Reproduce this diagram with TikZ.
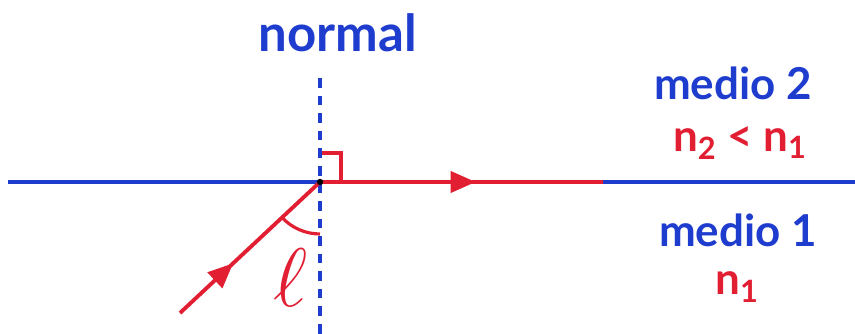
\documentclass[tikz,border=0pt]{standalone}
\usepackage{fontspec}
\setmainfont{Lato}
\usepackage{xcolor}
\usepackage{tikz}
\usetikzlibrary{arrows.meta, decorations.markings, calc}
\definecolor{penblue}{RGB}{30,60,205}
\definecolor{penred}{RGB}{225,30,50}

\begin{document}
\begin{tikzpicture}[x=0.02cm, y=0.02cm,
        txt/.style={inner sep=0pt, font=\fontsize{25}{29}\selectfont\bfseries},
        medium/.style={txt, text=penblue},
        index/.style={txt, text=penred},
        interface/.style={draw=penblue, line width=2pt},
        normalline/.style={draw=penblue, line width=2.2pt, dash pattern=on 5.5pt off 4.5pt},
        ray/.style={draw=penred, line width=2.2pt},
        midarrow/.style={postaction={decorate}, decoration={markings,
            mark=at position #1 with {\arrow[penred]{Triangle[length=0.5cm, width=0.42cm]}}}}
    ]
    \useasboundingbox (0,0) rectangle (855,334);

    % points
    \coordinate (O) at (320,152);
    \coordinate (leftEnd) at (8,152);
    \coordinate (rightEnd) at (855,152);
    \coordinate (normTop) at (320,256);
    \coordinate (normBot) at (320,0);
    \coordinate (inStart) at (180,21);
    \coordinate (refEnd) at (603,152);

    % interface and normal
    \draw[interface] (leftEnd) -- (rightEnd);
    \draw[normalline] (normTop) -- (normBot);

    % rays
    \draw[ray, midarrow=0.38] (inStart) -- (O);
    \draw[ray, midarrow=0.55] (O) -- (refEnd);
    \fill (O) circle (1.8pt);

    % right angle and incidence angle
    \draw[ray, line width=1.8pt] ($(O)+(2,29)$) -| ($(O)+(21,0)$);
    \draw[ray, line width=1.8pt] ($(O)+(223.1:52)$) arc[start angle=223.1, end angle=270, radius=1.04cm];

    % labels
    \node[medium, font=\fontsize{29}{33}\selectfont\bfseries] (normalLbl) at (338,301) {normal};
    \node[medium] (medio2) at (733,251) {medio 2};
    \node[index] (idx2) at (740,191) {n\textsubscript{2} < n\textsubscript{1}};
    \node[medium] (medio1) at (738,104) {medio 1};
    \node[index] (idx1) at (737,47) {n\textsubscript{1}};
    \node[index, scale=1.9] (angleLbl) at (291,56) {$\ell$};
\end{tikzpicture}
\end{document}
